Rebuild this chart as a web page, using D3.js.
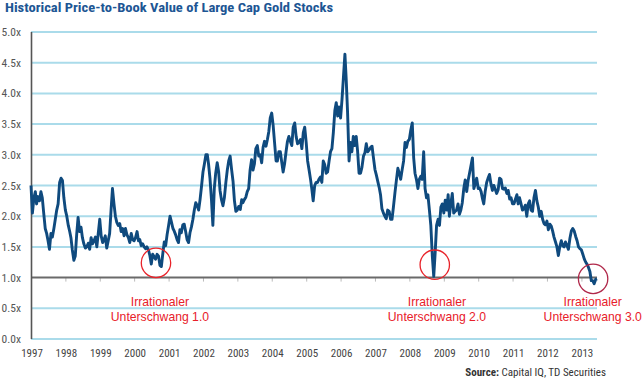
<!DOCTYPE html>
<html>
<head>
<meta charset="utf-8">
<script src="https://cdn.jsdelivr.net/npm/d3@7/dist/d3.min.js"></script>
<style>
  html, body { margin: 0; padding: 0; background: #ffffff; }
  svg { display: block; }
</style>
</head>
<body>
<svg id="chart" width="644" height="382"></svg>
<script>
// ---------- DATA (semi-monthly readings: 1st and 16th of each month) ----------
const years = [1997, 1998, 1999, 2000, 2001, 2002, 2003, 2004, 2005, 2006, 2007, 2008, 2009, 2010, 2011, 2012, 2013];
const v1997 = [2.50, 2.05, 2.30, 2.40, 2.20, 2.32, 2.25, 2.40, 2.30, 2.05, 1.80, 1.72, 1.60, 1.46, 1.72, 1.66, 1.80, 1.95, 2.10, 2.20, 2.55, 2.62, 2.58, 2.30];
const v1998 = [2.10, 2.00, 1.85, 1.75, 1.65, 1.45, 1.28, 1.35, 1.70, 1.98, 1.75, 1.82, 1.65, 1.55, 1.48, 1.50, 1.56, 1.46, 1.65, 1.55, 1.60, 1.66, 1.50, 1.72];
const v1999 = [1.95, 1.68, 1.57, 1.62, 1.68, 1.48, 1.60, 1.72, 2.10, 2.45, 2.20, 2.00, 1.90, 1.85, 1.88, 1.75, 1.80, 1.68, 1.80, 1.70, 1.65, 1.57, 1.72, 1.62];
const v2000 = [1.60, 1.65, 1.75, 1.60, 1.62, 1.52, 1.55, 1.50, 1.47, 1.50, 1.45, 1.36, 1.22, 1.38, 1.34, 1.30, 1.38, 1.35, 1.20, 1.18, 1.40, 1.58, 1.52, 1.70];
const v2001 = [1.85, 2.00, 1.90, 1.80, 1.76, 1.70, 1.62, 1.57, 1.78, 1.73, 1.86, 1.87, 1.75, 1.62, 1.57, 1.73, 1.83, 1.95, 2.10, 2.22, 2.17, 2.10, 2.27, 2.48];
const v2002 = [2.72, 2.85, 3.00, 3.00, 2.85, 2.62, 2.27, 1.85, 2.45, 2.70, 2.87, 2.73, 2.42, 2.27, 2.17, 2.30, 2.55, 2.75, 2.90, 2.98, 2.76, 2.57, 2.25, 2.08];
const v2003 = [2.10, 2.16, 2.11, 2.27, 2.22, 2.27, 2.31, 2.40, 2.45, 2.75, 2.92, 2.75, 2.85, 3.10, 3.15, 2.98, 3.00, 2.87, 3.12, 3.22, 3.14, 3.25, 3.38, 3.60];
const v2004 = [3.68, 3.48, 3.18, 2.90, 2.90, 3.05, 3.05, 2.88, 2.72, 2.85, 3.05, 3.22, 3.30, 3.22, 3.15, 3.45, 3.52, 3.30, 3.18, 3.20, 3.25, 3.10, 3.36, 3.45];
const v2005 = [3.20, 2.90, 2.75, 2.60, 2.45, 2.25, 2.50, 2.55, 2.55, 2.60, 2.64, 2.55, 2.90, 2.84, 2.70, 2.72, 2.90, 3.05, 3.10, 3.36, 3.72, 3.85, 3.63, 3.78];
const v2006 = [3.60, 3.90, 4.28, 4.64, 4.25, 3.70, 2.90, 3.20, 3.05, 3.30, 3.15, 3.30, 3.05, 2.70, 2.70, 2.80, 2.98, 3.03, 3.18, 3.05, 3.08, 3.12, 3.14, 2.95];
const v2007 = [2.76, 2.67, 2.56, 2.46, 2.35, 2.12, 2.05, 2.00, 1.96, 2.10, 2.08, 1.95, 1.95, 2.15, 2.38, 2.58, 2.78, 2.70, 2.60, 2.75, 2.90, 3.20, 3.12, 3.22];
const v2008 = [3.25, 3.40, 3.52, 2.95, 2.70, 2.60, 2.45, 2.60, 2.65, 2.60, 3.05, 2.45, 2.30, 2.35, 2.10, 1.85, 1.35, 1.02, 1.40, 1.85, 1.95, 1.85, 2.15, 2.20];
const v2009 = [2.05, 2.26, 2.10, 2.35, 2.00, 2.20, 2.37, 2.05, 2.08, 2.10, 2.20, 2.03, 2.10, 2.22, 2.45, 2.59, 2.40, 2.58, 2.70, 2.82, 2.95, 2.45, 2.53, 2.62];
const v2010 = [2.45, 2.46, 2.40, 2.28, 2.20, 2.40, 2.55, 2.62, 2.68, 2.53, 2.42, 2.50, 2.44, 2.37, 2.43, 2.62, 2.60, 2.45, 2.44, 2.46, 2.37, 2.42, 2.28, 2.30];
const v2011 = [2.20, 2.20, 2.28, 2.35, 2.20, 2.30, 2.20, 2.10, 2.12, 2.18, 2.00, 2.20, 2.25, 2.10, 2.08, 2.30, 2.42, 2.25, 2.15, 2.00, 2.08, 1.95, 1.88, 1.86];
const v2012 = [1.92, 1.78, 1.87, 1.84, 1.76, 1.66, 1.58, 1.50, 1.36, 1.50, 1.60, 1.52, 1.50, 1.58, 1.52, 1.46, 1.64, 1.76, 1.80, 1.76, 1.67, 1.60, 1.50, 1.47];
const v2013 = [1.45, 1.38, 1.30, 1.25, 1.22, 1.17, 1.10, 0.95, 0.95, 0.90, 0.97, 0.98];
const yearValues = [v1997, v1998, v1999, v2000, v2001, v2002, v2003, v2004, v2005, v2006, v2007, v2008, v2009, v2010, v2011, v2012, v2013];

const yTickValues = [0, 0.5, 1.0, 1.5, 2.0, 2.5, 3.0, 3.5, 4.0, 4.5, 5.0];
const referenceLevel = 1.0;

// annotations: circled troughs
const annoDates = ["2000-08-20", "2008-09-27", "2013-05-05"];
const annoValues = [1.24, 1.21, 0.98];
const annoLine1 = ["Irrationaler", "Irrationaler", "Irrationaler"];
const annoLine2 = ["Unterschwang 1.0", "Unterschwang 2.0", "Unterschwang 3.0"];
const annoLabelDates = ["2000-10-01", "2008-10-20", "2013-05-01"];

const titleText = "Historical Price-to-Book Value of Large Cap Gold Stocks";
const sourceBold = "Source:";
const sourceRest = " Capital IQ, TD Securities";

// ---------- BUILD SERIES ----------
const series = [];
years.forEach((yr, yi) => {
  yearValues[yi].forEach((v, i) => {
    series.push({ date: new Date(yr, Math.floor(i / 2), i % 2 === 0 ? 1 : 16), value: v });
  });
});

// ---------- LAYOUT ----------
const svg = d3.select("#chart");
const plotLeft = 31, plotRight = 597, plotTop = 32, plotBottom = 339;
const NARROW = "'Liberation Sans Narrow', 'Arial Narrow', 'Roboto Condensed', sans-serif";

const x = d3.scaleTime()
  .domain([new Date(1997, 0, 1), new Date(2014, 0, 1)])
  .range([plotLeft, plotLeft + 17 * 34.4]);
const y = d3.scaleLinear().domain([0, 5]).range([plotBottom, plotTop]);

// gridlines
svg.append("g").selectAll("line")
  .data(yTickValues.filter(v => v !== referenceLevel))
  .join("line")
  .attr("x1", plotLeft).attr("x2", plotRight)
  .attr("y1", d => y(d)).attr("y2", d => y(d))
  .attr("stroke", "#aadbea").attr("stroke-width", 2);

// y labels
svg.append("g").selectAll("text")
  .data(yTickValues)
  .join("text")
  .attr("x", 21).attr("y", d => y(d) + 4)
  .attr("text-anchor", "end")
  .attr("font-family", NARROW).attr("font-size", 11.5)
  .attr("fill", "#555")
  .text(d => d3.format(".1f")(d) + "x");

// reference axis line at 1.0 with year ticks
const xAxis = d3.axisBottom(x)
  .tickValues(years.map(yv => new Date(yv, 0, 1)))
  .tickSize(4)
  .tickFormat("");
const gx = svg.append("g").attr("transform", `translate(0,${y(referenceLevel)})`).call(xAxis);
gx.select(".domain").remove();
gx.selectAll(".tick line").attr("stroke", "#bbb").attr("stroke-width", 1);
svg.append("line")
  .attr("x1", plotLeft).attr("x2", plotRight)
  .attr("y1", y(referenceLevel)).attr("y2", y(referenceLevel))
  .attr("stroke", "#6a6a6a").attr("stroke-width", 2);

// year labels at the bottom
svg.append("g").selectAll("text")
  .data(years)
  .join("text")
  .attr("x", d => x(new Date(d, 0, 1)) + 1)
  .attr("y", 357)
  .attr("text-anchor", "middle")
  .attr("font-family", NARROW).attr("font-size", 11)
  .attr("fill", "#444")
  .text(d => d);

// left axis line
svg.append("line")
  .attr("x1", plotLeft + 0.5).attr("x2", plotLeft + 0.5)
  .attr("y1", y(5)).attr("y2", y(0))
  .attr("stroke", "#555").attr("stroke-width", 1.6);

// data line
const line = d3.line().x(d => x(d.date)).y(d => y(d.value));
svg.append("path")
  .datum(series)
  .attr("d", line)
  .attr("fill", "none")
  .attr("stroke", "#0f4a7e")
  .attr("stroke-width", 2.9)
  .attr("stroke-linejoin", "round");

// annotation circles
const circleColors = ["#e8232a", "#e8232a", "#b0284a"];
svg.append("g").selectAll("circle")
  .data(annoDates)
  .join("circle")
  .attr("cx", d => x(new Date(d)))
  .attr("cy", (d, i) => y(annoValues[i]))
  .attr("r", 14.7)
  .attr("fill", "none")
  .attr("stroke", (d, i) => circleColors[i])
  .attr("stroke-width", 1.3);

// annotation labels
const annoG = svg.append("g")
  .attr("font-family", "'Liberation Sans', Arial, sans-serif")
  .attr("font-size", 12.2)
  .attr("fill", "#e8202a")
  .attr("text-anchor", "middle");
annoLabelDates.forEach((d, i) => {
  annoG.append("text").attr("x", x(new Date(d))).attr("y", 306).text(annoLine1[i]);
  annoG.append("text").attr("x", x(new Date(d))).attr("y", 321).text(annoLine2[i]);
});

// title
svg.append("text")
  .attr("x", 5).attr("y", 12)
  .attr("font-family", NARROW)
  .attr("font-weight", "bold")
  .attr("font-size", 13.5)
  .attr("fill", "#1d5694")
  .attr("textLength", 328)
  .attr("lengthAdjust", "spacingAndGlyphs")
  .text(titleText);

// source
const src = svg.append("text")
  .attr("x", 606).attr("y", 376)
  .attr("text-anchor", "end")
  .attr("font-family", NARROW)
  .attr("font-size", 11)
  .attr("fill", "#333");
src.append("tspan").attr("font-weight", "bold").text(sourceBold);
src.append("tspan").text(sourceRest);
</script>
</body>
</html>
